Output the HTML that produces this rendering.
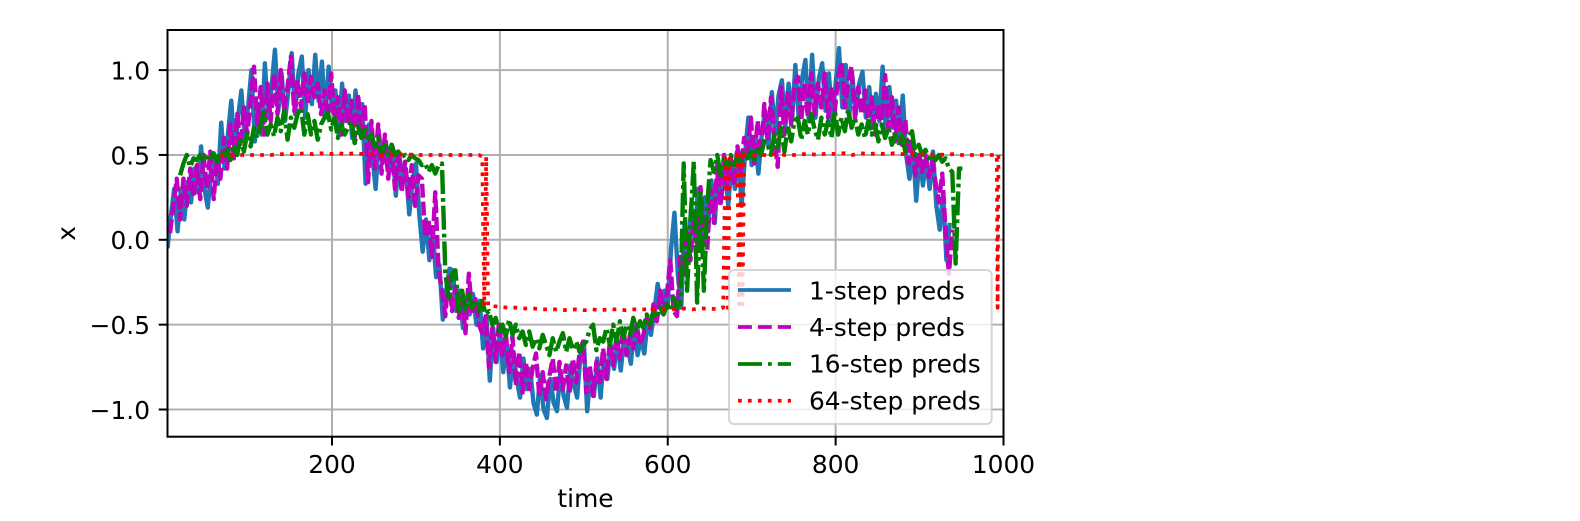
<!DOCTYPE html>
<html lang="en">
<head>
<meta charset="utf-8">
<title>Multi-step predictions chart</title>
<style>
html,body{margin:0;padding:0;background:#fff;width:1580px;height:521px;overflow:hidden}
svg{display:block}
text{font-family:"DejaVu Sans","Liberation Sans",sans-serif;font-size:24.85px;fill:#000}
</style>
</head>
<body>
<svg id="chart" xmlns="http://www.w3.org/2000/svg" width="1580" height="521" viewBox="0 0 1580 521">
  <defs><clipPath id="plot-clip"><rect x="167.5" y="30" width="836" height="406.7"/></clipPath></defs>
  <rect x="167.5" y="30" width="836" height="406.7" fill="#fff"/>
  <g id="grid"></g>
  <g id="series" clip-path="url(#plot-clip)"></g>
  <rect x="167.5" y="30" width="836" height="406.7" fill="none" stroke="#000" stroke-width="2"/>
  <g id="ticks"></g>
  <text x="585.5" y="507" text-anchor="middle">time</text>
  <text transform="translate(75,233.4) rotate(-90)" text-anchor="middle">x</text>
  <g>
    <rect x="729" y="270" width="262.7" height="154" rx="5" ry="5" fill="#fff" fill-opacity="0.8" stroke="#ccc" stroke-opacity="0.8" stroke-width="2"/>
    <g>
      <line x1="738" x2="791" y1="290" y2="290" stroke="#1f77b4" stroke-width="3.75"/>
      <text x="809" y="299.3">1-step preds</text>
    </g>
    <g>
      <line x1="738" x2="791" y1="327" y2="327" stroke="#bf00bf" stroke-width="3.75" stroke-dasharray="13.9 6"/>
      <text x="809" y="336">4-step preds</text>
    </g>
    <g>
      <line x1="738" x2="791" y1="364" y2="364" stroke="#008000" stroke-width="3.75" stroke-dasharray="24 6 3.75 6"/>
      <text x="809" y="372.7">16-step preds</text>
    </g>
    <g>
      <line x1="738" x2="791" y1="400.7" y2="400.7" stroke="#ff0000" stroke-width="3.75" stroke-dasharray="3.75 6.2"/>
      <text x="809" y="409.3">64-step preds</text>
    </g>
  </g>
</svg>
<script>
const xTicks = [200, 400, 600, 800, 1000];
const yTicks = [-1, -0.5, 0, 0.5, 1];
const yTickLabels = ["\u22121.0", "\u22120.5", "0.0", "0.5", "1.0"];
const timeStart1 = 4;
const timeStart4 = 7;
const timeStart16 = 19;
const timeStep = 4;
const steps1 = [
-.05,.14,.3,.05,.3,.12,.34,.22,.42,.28,.55,.3,.19,.42,.5,.33,.69,.42,.62,.82,.5,.72,.88,.6,.78,
1.0,.58,.8,.62,1.04,.72,.9,1.12,.76,.98,.7,.88,1.1,.74,.98,1.08,.72,1.0,.8,1.09,.82,1.05,.72,1.02,.76,
.88,.62,.92,.7,.85,.6,.88,.65,.8,.33,.68,.5,.3,.62,.45,.58,.4,.55,.26,.5,.36,.42,.15,.35,.45,
.15,-.07,.12,-.12,.05,-.22,-.15,-.47,-.3,-.17,-.18,-.42,-.3,-.52,-.34,-.44,-.32,-.5,-.36,-.64,-.45,-.83,-.52,-.72,-.55,
-.78,-.62,-.87,-.66,-.82,-.93,-.7,-.88,-.76,-.96,-1.03,-.8,-1.0,-1.05,-.82,-.96,-1.01,-.78,-.92,-.99,-.74,-.85,-.93,-.68,-.6,
-1.01,-.78,-.92,-.7,-.93,-.68,-.82,-.62,-.76,-.6,-.77,-.58,-.62,-.73,-.52,-.68,-.58,-.67,-.48,-.56,-.42,-.26,-.4,-.3,-.38,
-.05,.16,-.2,-.4,.1,-.1,.2,0,.3,.02,.25,.05,.35,.1,.42,.25,.45,.2,.46,.3,.52,.2,.5,.72,.44,
.6,.39,.62,.76,.55,.87,.62,.85,.94,.66,.92,.7,1.03,.72,.95,1.06,.7,1.09,.72,.95,1.04,.76,.98,.7,.92,
1.13,.78,1.03,.72,.96,.74,.92,.99,.72,.9,.66,.86,.7,1.02,.62,.9,.66,.82,.6,.85,.5,.36,.55,.23,.5,
.32,.48,.3,.52,.2,.06,.28,-.12,.1
];
const steps4 = [
.04,.2,.36,.12,.36,.2,.42,.25,.44,.24,.5,.3,.52,.24,.48,.36,.6,.42,.68,.48,.74,.55,.78,.62,.82,
1.02,.68,.9,.62,.92,.7,.98,.74,1.0,.76,.9,1.08,.76,.94,.78,.98,.8,.96,.84,.92,.74,.88,.72,.98,.7,
.84,.62,.88,.68,.82,.6,.86,.62,.8,.34,.7,.42,.68,.39,.62,.36,.56,.3,.52,.28,.46,.25,.44,.2,.38,
.36,.02,.12,-.1,.28,-.18,-.3,-.45,-.2,-.42,-.28,-.46,-.34,-.55,-.2,-.44,-.35,-.5,-.55,-.45,-.75,-.52,-.72,-.48,-.68,
-.55,-.78,-.57,-.86,-.66,-.9,-.72,-.88,-.76,-.67,-.92,-.78,-.94,-.8,-.7,-.9,-.72,-.88,-.74,-.9,-.7,-.84,-.66,-.6,-.9,
-.74,-.92,-.72,-.86,-.64,-.82,-.6,-.74,-.56,-.7,-.52,-.68,-.56,-.64,-.5,-.62,-.56,-.46,-.52,-.38,-.48,-.3,-.42,-.32,-.12,
-.42,-.45,-.1,-.2,.05,-.12,.15,-.05,.31,.05,-.06,.3,.1,.44,.2,.5,.3,.48,.32,.55,.4,.6,.52,.72,.45,
.7,.5,.8,.58,.84,.6,.43,.9,.62,.88,.68,.92,.96,.7,.92,.72,.98,.74,.92,.78,.98,.72,.9,.76,.96,
1.05,.78,.94,1.02,.72,.9,.74,.88,.66,.84,.62,.8,.7,.97,.66,.84,.58,.78,.56,.71,.45,.58,.38,.52,.4,
.5,.37,.46,.34,.22,.39,.05,-.2,.06
];
const steps16 = [
.38,.45,.5,.43,.48,.47,.5,.46,.5,.48,.51,.46,.52,.48,.53,.47,.56,.5,.6,.52,.63,.55,.66,.6,.68,
.75,.62,.68,.61,.72,.64,.76,.59,.72,.66,.74,.78,.62,.74,.62,.7,.59,.68,.72,.75,.65,.72,.6,.68,.62,
.66,.7,.57,.67,.6,.65,.58,.62,.55,.6,.5,.56,.5,.56,.5,.52,.49,.5,.47,.5,.48,.47,.44,.45,.4,
.44,.39,.44,.45,-.2,-.34,-.2,-.18,-.42,-.3,-.42,-.32,-.4,-.36,-.42,-.36,-.44,-.42,-.5,-.46,-.54,-.5,-.57,-.47,-.56,
-.5,-.58,-.54,-.62,-.54,-.63,-.58,-.64,-.56,-.62,-.68,-.58,-.66,-.6,-.55,-.66,-.58,-.65,-.6,-.66,-.62,-.6,-.53,-.5,-.65,
-.58,-.6,-.52,-.62,-.5,-.6,-.48,-.58,-.5,-.56,-.46,-.54,-.48,-.52,-.44,-.5,-.42,-.46,-.4,-.44,-.38,-.42,-.34,-.4,-.38,
.45,-.3,.1,.46,-.37,.29,-.3,.2,.47,.4,.5,.38,.48,.42,.5,.44,.5,.46,.52,.48,.52,.47,.55,.5,.58,
.56,.5,.62,.54,.66,.52,.67,.58,.7,.72,.59,.7,.62,.74,.65,.59,.72,.62,.7,.6,.76,.62,.72,.64,.77,
.66,.72,.62,.68,.6,.7,.62,.68,.58,.68,.6,.66,.56,.62,.57,.62,.52,.6,.64,.5,.56,.5,.53,.48,.5,
.47,.5,.46,.48,.42,.4,-.14,.42,.42
];
const times64 = [67,77,87,97,107,117,127,137,147,157,167,177,187,197,207,217,227,237,247,257,267,277,287,297,307,317,327,337,347,357,367,375,
379,381.3,383.7,386,
390,400,410,420,430,440,450,460,470,480,490,500,510,520,530,540,550,560,570,580,590,600,610,620,630,640,650,660,
666,668.7,671.4,674,680,
683,685,687,689,691,692,
700,710,720,730,740,750,760,770,780,790,800,810,820,830,840,850,860,870,880,890,900,910,920,930,940,950,960,970,980,990,
992,993,994,1000];
const steps64 = [.5,.5,.5,.5,.5,.5,.5,.505,.505,.505,.51,.505,.51,.505,.51,.505,.51,.505,.505,.5,.505,.5,.505,.5,.5,.5,.5,.5,.5,.5,.5,.5,
.49,-.39,.49,-.39,
-.39,-.395,-.4,-.4,-.405,-.405,-.41,-.41,-.41,-.415,-.41,-.415,-.41,-.415,-.41,-.41,-.415,-.41,-.41,-.41,-.41,-.41,-.41,-.405,-.41,-.405,-.405,-.41,
-.4,.48,-.4,.48,.48,
.5,-.38,.5,-.38,.5,.5,
.5,.5,.5,.505,.5,.5,.505,.505,.5,.51,.505,.51,.5,.51,.505,.51,.505,.51,.505,.51,.505,.5,.505,.5,.505,.5,.5,.5,.5,.5,
.5,-.4,.5,.5];

const svgNS = "http://www.w3.org/2000/svg";
const xScale = t => 167.5 + (t - 4) * 836 / 996;
const yScale = v => 239.8 - 169.7 * v;

const gridGroup = document.getElementById("grid");
const tickGroup = document.getElementById("ticks");
const seriesGroup = document.getElementById("series");

function make(tag, attrs, parent) {
  const el = document.createElementNS(svgNS, tag);
  for (const k in attrs) el.setAttribute(k, attrs[k]);
  parent.appendChild(el);
  return el;
}

xTicks.forEach(t => {
  const px = xScale(t);
  const grid = make("line", {x1: px, x2: px, y1: 30, y2: 436.7, stroke: "#b0b0b0", "stroke-width": 2}, gridGroup);
  
  
  const tick = make("line", {x1: px, x2: px, y1: 436.7, y2: 445.5, stroke: "#000", "stroke-width": 2}, tickGroup);
  
  
  const label = make("text", {x: px, y: 473, "text-anchor": "middle"}, tickGroup);
  
  
  label.textContent = String(t);
});

yTicks.forEach((v, i) => {
  const py = yScale(v);
  const grid = make("line", {x1: 167.5, x2: 1003.5, y1: py, y2: py, stroke: "#b0b0b0", "stroke-width": 2}, gridGroup);
  
  
  const tick = make("line", {x1: 158.7, x2: 167.5, y1: py, y2: py, stroke: "#000", "stroke-width": 2}, tickGroup);
  
  
  const label = make("text", {x: 150, y: py + 9.3, "text-anchor": "end"}, tickGroup);
  
  
  label.textContent = yTickLabels[i];
});

function pointsFromStep(start, values) {
  return values.map((v, i) => xScale(start + i * timeStep).toFixed(2) + "," + yScale(v).toFixed(2)).join(" ");
}
function pointsFromTimes(times, values) {
  return values.map((v, i) => xScale(times[i]).toFixed(2) + "," + yScale(v).toFixed(2)).join(" ");
}
function drawLine(points, color, dash, width) {
  const attrs = {points: points, fill: "none", stroke: color, "stroke-width": width, "stroke-linejoin": "round"};
  if (dash) attrs["stroke-dasharray"] = dash;
  return make("polyline", attrs, seriesGroup);
}

const line1 = drawLine(pointsFromStep(timeStart1, steps1), "#1f77b4", "", 4.4);


const line4 = drawLine(pointsFromStep(timeStart4, steps4), "#bf00bf", "13.9 4", 4.4);


const line16 = drawLine(pointsFromStep(timeStart16, steps16), "#008000", "24 4 3.75 4", 4.4);


const line64 = drawLine(pointsFromTimes(times64, steps64), "#ff0000", "3.75 6.2", 3.75);


</script>
</body>
</html>
